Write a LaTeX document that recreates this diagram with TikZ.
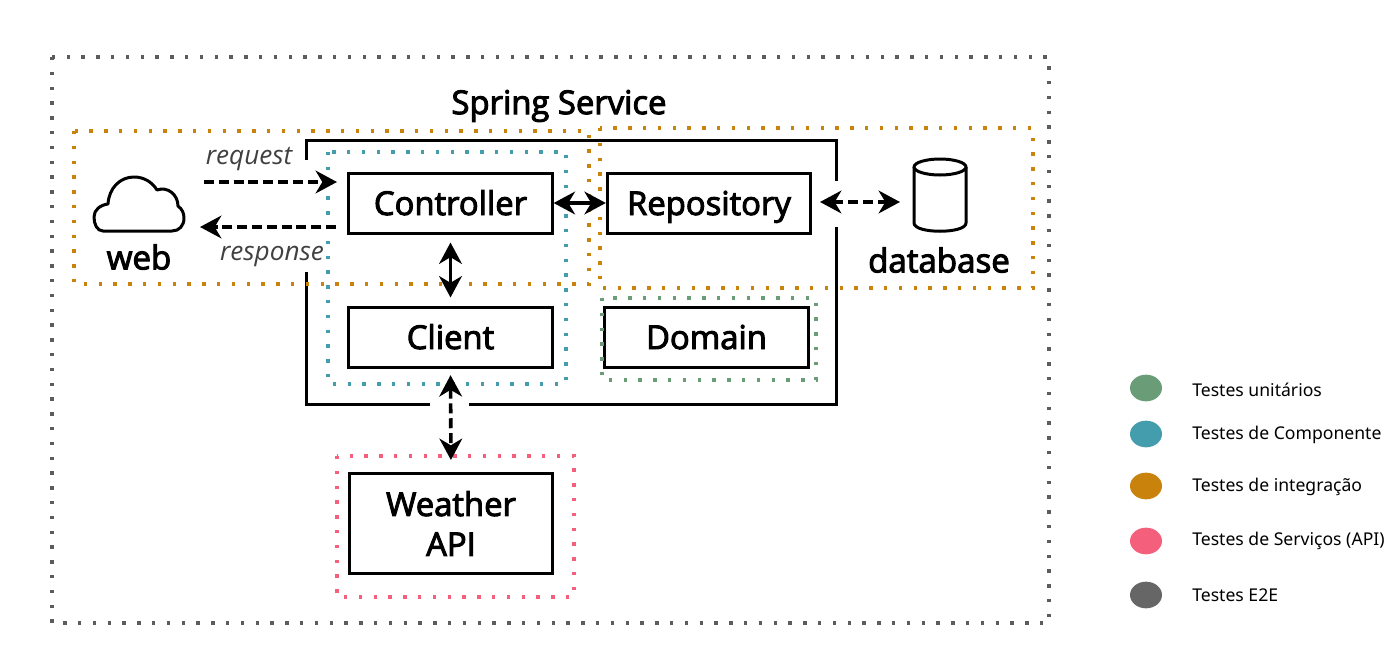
\documentclass[tikz,border=0pt]{standalone}
\usepackage{fontspec}
\setmainfont{Open Sans}
\newfontfamily\semibfont[FakeBold=3]{Open Sans}
\newfontfamily\legendfont{Noto Sans}
\usetikzlibrary{arrows.meta,shapes.geometric}
\definecolor{cgreen}{HTML}{6A9C78}
\definecolor{cteal}{HTML}{449DAC}
\definecolor{corange}{HTML}{C9830C}
\definecolor{cpink}{HTML}{F4607C}
\definecolor{cgrey}{HTML}{666666}
\tikzset{
  dotbox/.style={line width=2.6pt,dash pattern=on 2.6pt off 8.5pt},
  boxframe/.style={draw=black,line width=2.25pt,fill=white,inner sep=0pt,font=\semibfont\fontsize{24.6}{30}\selectfont,align=center},
  compbox/.style={boxframe,text height=23pt,text depth=5pt},
  boldlabel/.style={inner sep=0pt,font=\semibfont\fontsize{24.8}{28}\selectfont},
  ilabel/.style={inner sep=0pt,text=black!75,font=\fontsize{19.6}{24}\selectfont\itshape},
  titlelabel/.style={inner sep=0pt,font=\semibfont\fontsize{24.6}{28}\selectfont},
  frameline/.style={line width=2.25pt,black},
  shapeline/.style={line width=2.25pt,black,line join=round},
  conn/.style={line width=2.7pt,black,{Stealth[length=16pt,width=17pt,inset=5pt]}-{Stealth[length=16pt,width=17pt,inset=5pt]}},
  connone/.style={line width=2.7pt,black,-{Stealth[length=16pt,width=17pt,inset=5pt]}},
  dashedconn/.style={dash pattern=on 7.5pt off 3.6pt},
  legdot/.style={draw=none,ellipse,minimum width=24pt,minimum height=20pt,inner sep=0pt},
  legtext/.style={inner sep=0pt,anchor=west,font=\legendfont\fontsize{13.2}{15}\selectfont}
}
\begin{document}
\begin{tikzpicture}[x=0.75pt,y=-0.75pt]
\useasboundingbox (0,0) rectangle (1400,650);
\draw[dotbox,cgrey!90!black] (52,57) rectangle (1049,623);
\draw[frameline] (306,160) -- (306,140) -- (836,140) -- (836,181);
\draw[frameline] (836,227) -- (836,404) -- (469,404);
\draw[frameline] (430,404) -- (306,404) -- (306,272);
\node[titlelabel] (title) at (559,106) {Spring Service};
\node[compbox,minimum width=152.5pt,minimum height=45pt] (controller) at (450.5,203) {Controller};
\node[compbox,minimum width=152.5pt,minimum height=45pt] (repository) at (709,203) {Repository};
\node[compbox,minimum width=152.5pt,minimum height=45pt] (client) at (450.5,337) {Client};
\node[compbox,minimum width=152.5pt,minimum height=45pt] (domain) at (706.5,337) {Domain};
\node[boxframe,minimum width=152pt,minimum height=75pt] (weather) at (451,523.5) {Weather\\API};
\draw[dotbox,corange] (74,131) rectangle (589,284);
\draw[dotbox,corange] (600,128) rectangle (1033,288);
\draw[dotbox,cteal] (328,152) rectangle (566,384);
\draw[dotbox,cgreen] (602,298) rectangle (816,380);
\draw[dotbox,cpink] (337,456) rectangle (574,597);
\draw[shapeline] (103,231)
  .. controls (97,231) and (94,224) .. (94,217)
  .. controls (94,210) and (100,205) .. (108,204)
  .. controls (109,188) and (120,177) .. (134,177)
  .. controls (144,177) and (152,182) .. (157,190)
  .. controls (168,186) and (178,195) .. (178,206)
  .. controls (182,209) and (184,213) .. (184,218)
  .. controls (184,226) and (179,231) .. (172,231) -- cycle;
\node[boldlabel] (web) at (139,257) {web};
\draw[shapeline,fill=white] (914,167) -- (914,223) .. controls (914,234) and (966,234) .. (966,223) -- (966,167);
\draw[shapeline,fill=white] (940,167) ellipse [x radius=26,y radius=8];
\node[boldlabel] (database) at (939,260) {database};
\coordinate (reqstart) at (204,182);
\coordinate (reqend) at (337,182);
\coordinate (respstart) at (336,227);
\coordinate (respend) at (200,227);
\coordinate (dbin) at (900,202);
\coordinate (repoout) at (820,202);
\node[ilabel] (request) at (249,159) {request};
\node[ilabel] (response) at (272,256) {response};
\draw[connone,dashedconn] (reqstart) -- (reqend);
\draw[connone,dashedconn] (respstart) -- (respend);
\draw[conn] (controller.east) -- (repository.west);
\draw[conn,shorten <=6pt,shorten >=6pt] (controller.south) -- (client.north);
\draw[conn,dashedconn,shorten <=5pt,shorten >=9pt] (client.south) -- (weather.north);
\draw[conn,dashedconn] (repoout) -- (dbin);
\node[legdot,fill=cgreen] (l1) at (1146,388) {};
\node[legdot,fill=cteal] (l2) at (1146,434) {};
\node[legdot,fill=corange] (l3) at (1146,486) {};
\node[legdot,fill=cpink] (l4) at (1146,541) {};
\node[legdot,fill=cgrey] (l5) at (1146,595) {};
\node[legtext] (t1) at (1192,390) {Testes unitários};
\node[legtext] (t2) at (1192,435) {Testes de Componente};
\node[legtext] (t3) at (1192,487) {Testes de integração};
\node[legtext] (t4) at (1192,541) {Testes de Serviços (API)};
\node[legtext] (t5) at (1192,595) {Testes E2E};
\end{tikzpicture}
\end{document}
